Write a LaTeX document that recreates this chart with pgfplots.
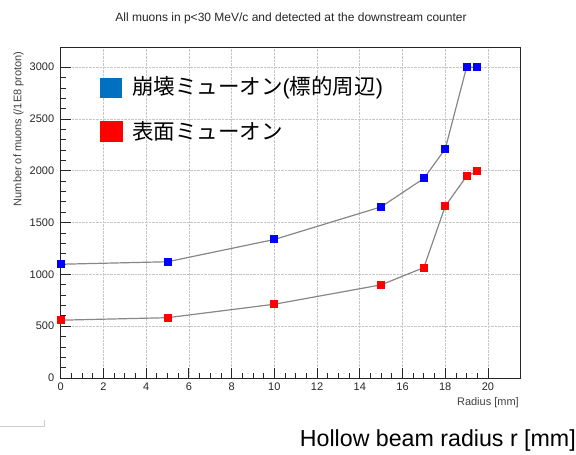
\documentclass[border=0pt]{standalone}
\usepackage{pgfplots}
\pgfplotsset{compat=1.18}
\usepackage{fontspec}
\setmainfont{Liberation Sans}
\newfontfamily\jp{Noto Sans CJK JP}
\definecolor{legblue}{RGB}{0,112,192}
\definecolor{legred}{RGB}{255,0,0}
\definecolor{linegray}{RGB}{135,135,135}
\begin{document}
\begin{tikzpicture}[x=1pt,y=1pt]
\path[use as bounding box] (0,0) rectangle (576,455);
\begin{axis}[
  at={(60.7pt,77pt)}, anchor=south west,
  scale only axis, width=459.3pt, height=331pt,
  xmin=0, xmax=21.5, ymin=0, ymax=3195,
  xtick={0,2,...,20}, ytick={0,500,...,3000},
  minor x tick num=3, minor y tick num=4,
  xtick pos=bottom, ytick pos=left,
  tick align=inside,
  major tick length=10pt, minor tick length=5pt,
  tick style={black!85, line width=0.8pt},
  axis line style={black!85, line width=0.8pt},
  grid=major,
  major grid style={densely dotted, gray!45, line width=0.6pt},
  /pgf/number format/assume math mode=true,
  /pgf/number format/1000 sep={},
  ticklabel style={font=\fontsize{11}{12}\selectfont, text=black!85},
  xticklabel style={yshift=-1pt},
  yticklabel style={xshift=-3pt},
]
\addplot[color=linegray, line width=1.2pt, mark=square*, mark size=3.4pt,
  mark options={draw=blue, fill=blue}] coordinates {
  (0,1098) (5,1122) (10,1337) (15,1652) (17,1926) (18,2211) (19,3000) (19.5,3000)
};
\addplot[color=linegray, line width=1.2pt, mark=square*, mark size=3.4pt,
  mark options={draw=red, fill=red}] coordinates {
  (0,558) (5,582) (10,712) (15,899) (17,1066) (18,1659) (19,1948) (19.5,1996)
};
\end{axis}
% title
\node[font=\fontsize{12}{13}\selectfont, text=black!85] at (291,437) {All muons in p<30 MeV/c and detected at the downstream counter};
% axis labels
\node[rotate=90, anchor=east, font=\fontsize{11}{12}\selectfont, text=black!75] at (18.5,407) {Number of muons (/1E8 proton)};
\node[anchor=east, font=\fontsize{11}{12}\selectfont, text=black!75, inner sep=0pt] at (519,52) {Radius [mm]};
\node[anchor=east, font=\fontsize{23.2}{25}\selectfont, inner sep=0pt] at (576,14) {Hollow beam radius r [mm]};
% legend
\fill[legblue] (99.5,356.7) rectangle (122,377.3);
\node[anchor=west, inner sep=0pt, font=\fontsize{21.5}{23}\selectfont] at (132,367) {\jp 崩壊ミューオン\rmfamily(\jp 標的周辺\rmfamily)};
\fill[legred] (100,313.3) rectangle (123,334);
\node[anchor=west, inner sep=0pt, font=\fontsize{21.5}{23}\selectfont] at (132,324) {\jp 表面ミューオン};
% stray fragment at bottom left
\draw[gray!40, line width=0.6pt] (0,29) -- (44,29) -- (44,35);
\end{tikzpicture}
\end{document}
